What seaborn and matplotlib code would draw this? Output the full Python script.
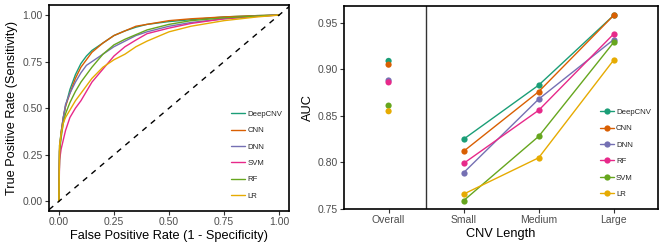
import numpy as np
import pandas as pd
import matplotlib
matplotlib.use("Agg")
import matplotlib.pyplot as plt
import seaborn as sns

# ---------------- data ----------------
roc_models = ["DeepCNV", "CNN", "DNN", "SVM", "RF", "LR"]
roc_fpr = {
    "DeepCNV": [0, 0.003, 0.01, 0.02, 0.03, 0.05, 0.075, 0.10, 0.125, 0.15, 0.20, 0.25, 0.30, 0.35, 0.40, 0.50, 0.60, 0.75, 0.90, 1.0],
    "CNN":     [0, 0.003, 0.01, 0.02, 0.03, 0.05, 0.075, 0.10, 0.125, 0.15, 0.20, 0.25, 0.30, 0.35, 0.40, 0.50, 0.60, 0.75, 0.90, 1.0],
    "DNN":     [0, 0.003, 0.01, 0.02, 0.03, 0.05, 0.075, 0.10, 0.125, 0.15, 0.20, 0.25, 0.30, 0.35, 0.40, 0.50, 0.60, 0.75, 0.90, 1.0],
    "SVM":     [0, 0.003, 0.01, 0.02, 0.03, 0.05, 0.075, 0.10, 0.125, 0.15, 0.20, 0.25, 0.30, 0.35, 0.40, 0.50, 0.60, 0.75, 0.90, 1.0],
    "RF":      [0, 0.003, 0.01, 0.02, 0.03, 0.05, 0.075, 0.10, 0.125, 0.15, 0.20, 0.25, 0.30, 0.35, 0.40, 0.50, 0.60, 0.75, 0.90, 1.0],
    "LR":      [0, 0.003, 0.01, 0.02, 0.03, 0.05, 0.075, 0.10, 0.125, 0.15, 0.20, 0.25, 0.30, 0.35, 0.40, 0.50, 0.60, 0.75, 0.90, 1.0],
}
roc_tpr = {
    "DeepCNV": [0, 0.30, 0.37, 0.45, 0.51, 0.60, 0.68, 0.74, 0.78, 0.81, 0.85, 0.89, 0.915, 0.935, 0.95, 0.965, 0.975, 0.99, 0.997, 1.0],
    "CNN":     [0, 0.28, 0.37, 0.45, 0.51, 0.58, 0.66, 0.72, 0.76, 0.80, 0.85, 0.89, 0.915, 0.94, 0.95, 0.97, 0.98, 0.99, 0.997, 1.0],
    "DNN":     [0, 0.27, 0.36, 0.45, 0.52, 0.58, 0.64, 0.69, 0.73, 0.75, 0.79, 0.83, 0.86, 0.89, 0.91, 0.94, 0.96, 0.98, 0.995, 1.0],
    "SVM":     [0, 0.22, 0.28, 0.33, 0.38, 0.45, 0.50, 0.54, 0.59, 0.64, 0.71, 0.78, 0.83, 0.866, 0.90, 0.93, 0.955, 0.98, 0.993, 1.0],
    "RF":      [0, 0.27, 0.34, 0.42, 0.47, 0.53, 0.59, 0.64, 0.68, 0.72, 0.79, 0.84, 0.87, 0.895, 0.92, 0.95, 0.97, 0.985, 0.995, 1.0],
    "LR":      [0, 0.30, 0.36, 0.42, 0.45, 0.49, 0.54, 0.58, 0.62, 0.66, 0.72, 0.76, 0.79, 0.83, 0.86, 0.91, 0.94, 0.97, 0.99, 1.0],
}

auc_models = ["DeepCNV", "CNN", "DNN", "RF", "SVM", "LR"]
auc_categories = ["Overall", "Small", "Medium", "Large"]
auc_values = {
    "DeepCNV": [0.909, 0.825, 0.883, 0.958],
    "CNN":     [0.905, 0.812, 0.876, 0.958],
    "DNN":     [0.888, 0.789, 0.868, 0.932],
    "RF":      [0.886, 0.799, 0.856, 0.938],
    "SVM":     [0.861, 0.759, 0.828, 0.929],
    "LR":      [0.855, 0.766, 0.805, 0.910],
}

colors = {
    "DeepCNV": "#1B9E77", "CNN": "#D95F02", "DNN": "#7570B3",
    "SVM": "#E7298A", "RF": "#66A61E", "LR": "#E6AB02",
}
colors_right = {
    "DeepCNV": "#1B9E77", "CNN": "#D95F02", "DNN": "#7570B3",
    "RF": "#E7298A", "SVM": "#66A61E", "LR": "#E6AB02",
}

# ---------------- style ----------------
sns.set_theme(style="white")
plt.rcParams["font.family"] = ["Liberation Sans", "DejaVu Sans"]

fig = plt.figure(figsize=(6.66, 2.49), dpi=100)
ax1 = fig.add_axes([49 / 666, 1 - 211 / 249, 240 / 666, 206 / 249])
ax2 = fig.add_axes([344.3 / 666, 1 - 209 / 249, (658 - 344.3) / 666, 203 / 249])

# ---------------- left: ROC ----------------
rows = []
for m in roc_models:
    for f, t in zip(roc_fpr[m], roc_tpr[m]):
        rows.append({"model": m, "fpr": f, "tpr": t})
roc_df = pd.DataFrame(rows)
sns.lineplot(data=roc_df, x="fpr", y="tpr", hue="model", hue_order=roc_models,
             palette=colors, sort=False, estimator=None, linewidth=1.0, ax=ax1)
ax1.axline((0, 0), slope=1, color="black", linestyle=(0, (4, 4)), linewidth=1.0)
ax1.set_xlim(-0.045, 1.045)
ax1.set_ylim(-0.052, 1.054)
ticks = [0, 0.25, 0.5, 0.75, 1.0]
ax1.set_xticks(ticks)
ax1.set_yticks(ticks)
ax1.set_xticklabels([f"{t:.2f}" for t in ticks])
ax1.set_yticklabels([f"{t:.2f}" for t in ticks])
ax1.set_xlabel("False Positive Rate (1 - Specificity)", fontsize=9.2, color="black", labelpad=2)
ax1.set_ylabel("True Positive Rate (Sensitivity)", fontsize=9.2, color="black", labelpad=3)
ax1.legend(loc="lower right", frameon=False, fontsize=5.6, handlelength=1.8,
           labelspacing=1.15, handletextpad=0.3, bbox_to_anchor=(1.0, 0.02))

# ---------------- right: AUC ----------------
pos = {c: i for i, c in enumerate(auc_categories)}
rows = []
for m in auc_models:
    for c, v in zip(auc_categories, auc_values[m]):
        rows.append({"model": m, "cat": c, "x": pos[c], "auc": v})
auc_df = pd.DataFrame(rows)
overall = auc_df[auc_df["cat"] == "Overall"]
lengths = auc_df[auc_df["cat"] != "Overall"]
sns.lineplot(data=lengths, x="x", y="auc", hue="model", hue_order=auc_models,
             palette=colors_right, marker="o", markersize=4.5, markeredgewidth=0,
             linewidth=1.0, ax=ax2)
sns.scatterplot(data=overall, x="x", y="auc", hue="model", hue_order=auc_models,
                palette=colors_right, s=20, linewidth=0, ax=ax2, legend=False)
ax2.axvline(0.5, color="#333333", linewidth=1.0)
ax2.set_xlim(-0.59, 3.59)
ax2.set_ylim(0.75, 0.968)
ax2.set_xticks(range(len(auc_categories)))
ax2.set_xticklabels(auc_categories)
ax2.set_yticks([0.75, 0.80, 0.85, 0.90, 0.95])
ax2.set_yticklabels(["0.75", "0.80", "0.85", "0.90", "0.95"])
ax2.set_xlabel("CNV Length", fontsize=9.2, color="black", labelpad=2)
ax2.set_ylabel("AUC", fontsize=9.2, color="black", labelpad=3)
ax2.legend(loc="lower right", frameon=False, fontsize=5.6, handlelength=1.8,
           labelspacing=1.15, handletextpad=0.3, bbox_to_anchor=(1.0, 0.02))

for ax in (ax1, ax2):
    for s in ax.spines.values():
        s.set_color("black")
        s.set_linewidth(1.2)
    ax.tick_params(axis="both", which="both", length=3, width=0.8, color="#333333",
                   labelsize=7.5, labelcolor="#4D4D4D", pad=1.5,
                   bottom=True, left=True)

fig.savefig("out.png", dpi=100)
